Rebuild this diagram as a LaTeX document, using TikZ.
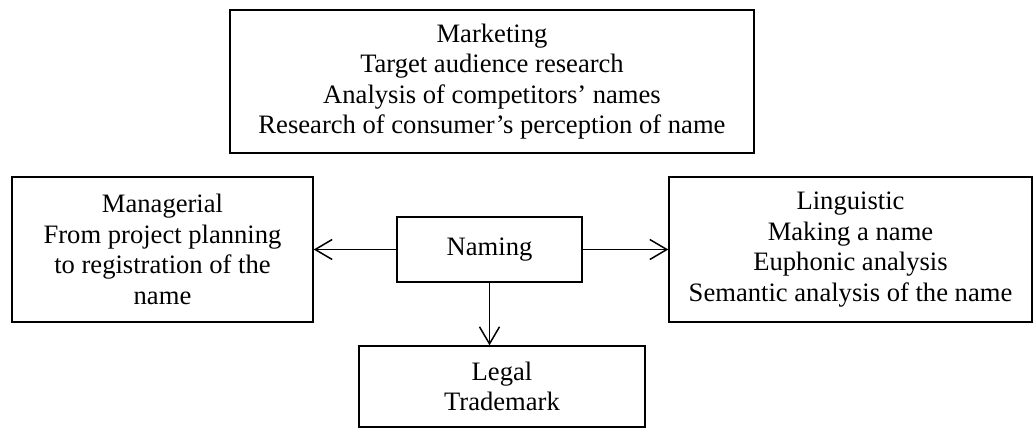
\documentclass[tikz,border=0pt]{standalone}
\usepackage{fontspec}
\setmainfont{Liberation Serif}
\usetikzlibrary{arrows.meta}
\begin{document}
\begin{tikzpicture}[x=1pt,y=-1pt,
  box/.style={draw, line width=1.4pt, inner sep=0pt, align=center,
    font=\fontsize{26.6}{30.6}\selectfont},
  conn/.style={line width=1.5pt, -{Straight Barb[length=17pt,width=20pt,line width=1.5pt]}}]
\useasboundingbox (0,0) rectangle (1033,429);
\node[box, minimum width=524pt, minimum height=143pt] (marketing) at (492,81.5)
  {Marketing\\Target audience research\\Analysis of competitors’ names\\Research of consumer’s perception of name};
\node[box, minimum width=301pt, minimum height=145pt] (managerial) at (162.5,249.5)
  {Managerial\\From project planning\\to registration of the\\name};
\node[box, minimum width=363pt, minimum height=145pt] (linguistic) at (850.5,249.5)
  {Linguistic\\Making a name\\Euphonic analysis\\Semantic analysis of the name};
\node[box, minimum width=185pt, minimum height=65pt] (naming) at (489.5,249.5) {Naming};
\node[box, minimum width=286pt, minimum height=81pt] (legal) at (502,386.5) {Legal\\Trademark};
\draw[conn] (naming.west) -- (managerial.east);
\draw[conn] (naming.east) -- (linguistic.west);
\draw[conn] (naming.south) -- (naming.south |- legal.north);
\end{tikzpicture}
\end{document}
